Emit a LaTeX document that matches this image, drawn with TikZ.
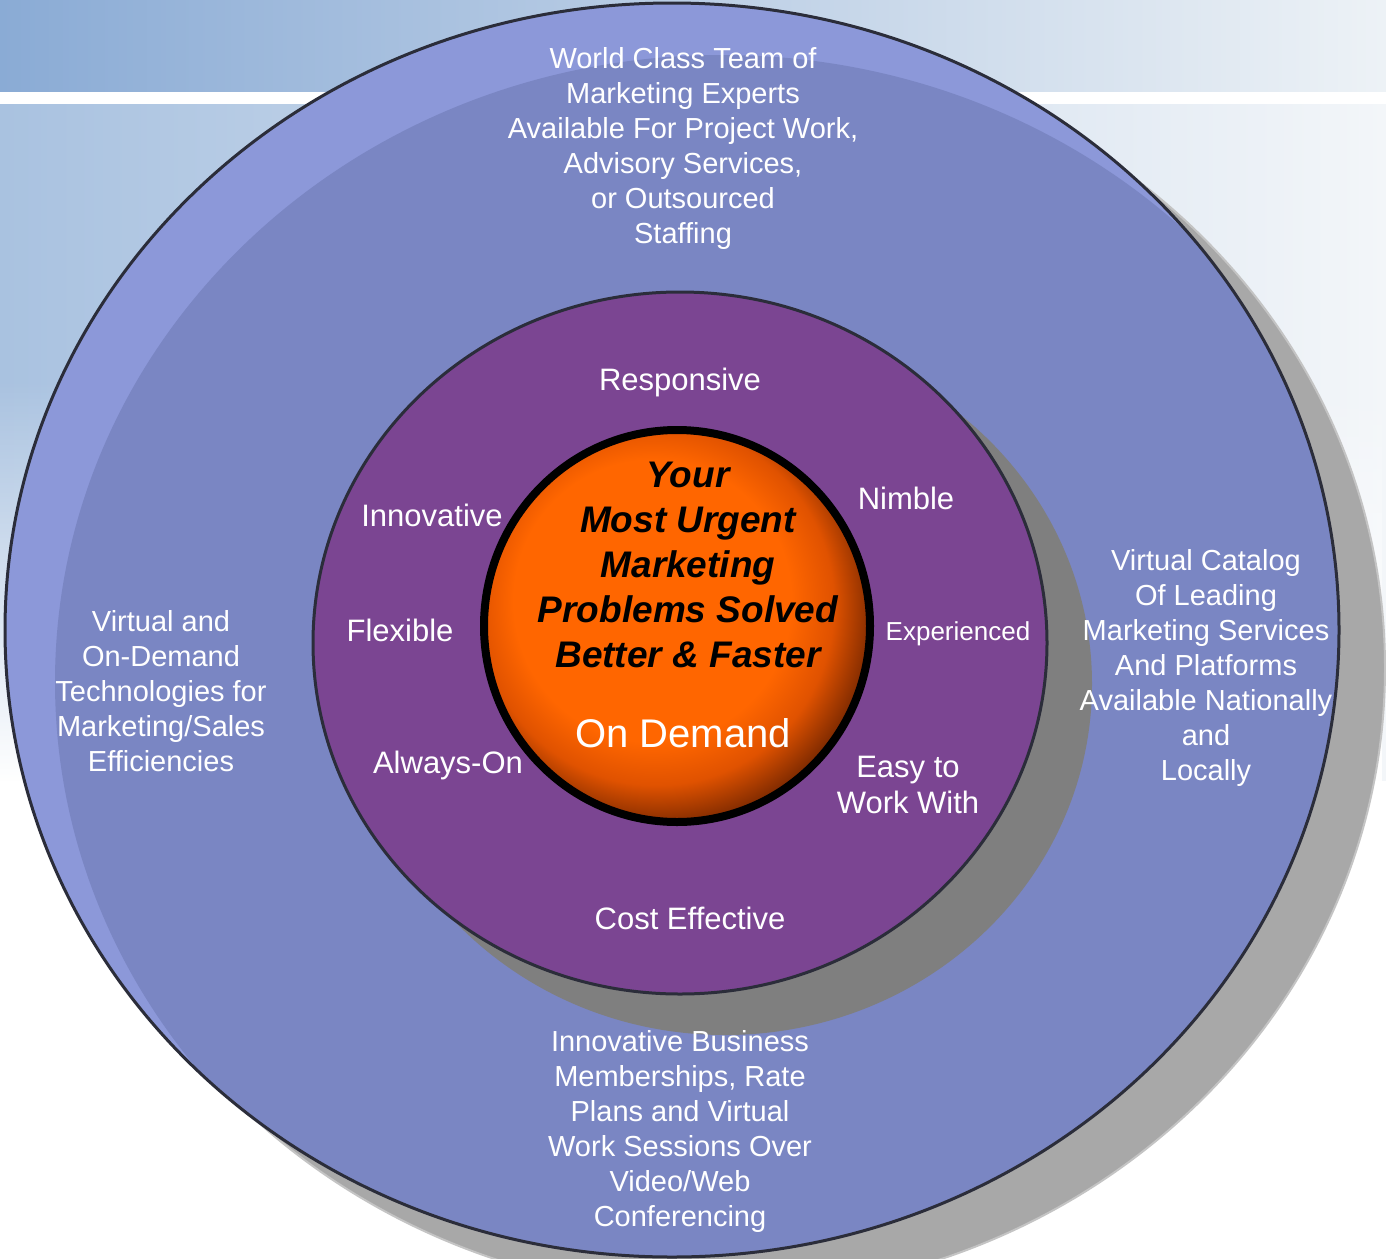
\documentclass[tikz,border=0pt]{standalone}
\usepackage{fontspec}
\setmainfont{Liberation Sans}
\usetikzlibrary{fadings}
\definecolor{skyA}{HTML}{8AABD5}
\definecolor{skyB}{HTML}{D2DEEB}
\definecolor{skyC}{HTML}{EDF2F6}
\definecolor{skyD}{HTML}{A9C2E0}
\definecolor{skyE}{HTML}{E2EAF3}
\definecolor{skyF}{HTML}{F3F6F9}
\definecolor{rimblue}{HTML}{8C98D9}
\definecolor{diskblue}{HTML}{7A86C3}
\definecolor{ringline}{HTML}{2B2D3A}
\definecolor{shadowA}{HTML}{A8A8A8}
\definecolor{shadowAline}{HTML}{C4C4C4}
\definecolor{shadowB}{HTML}{7F7F7F}
\definecolor{purp}{HTML}{7B4592}
\definecolor{orA}{HTML}{FF6600}
\definecolor{orB}{HTML}{E05200}
\definecolor{orC}{HTML}{7A2800}
\definecolor{orD}{HTML}{3A1200}
\pgfdeclareradialshading{orb}{\pgfpoint{-5bp}{5bp}}{color(0bp)=(orA); color(18bp)=(orA); color(23bp)=(orB); color(28bp)=(orC); color(32bp)=(orD); color(50bp)=(orD)}
\begin{document}
\begin{tikzpicture}[x=1pt,y=-1pt,
  otext/.style={text=white, align=center, inner sep=0pt, font=\fontsize{29}{35}\selectfont},
  ptext/.style={text=white, align=center, inner sep=0pt, font=\fontsize{31}{36}\selectfont},
  ctext/.style={text=black, align=center, inner sep=0pt, font=\bfseries\itshape\fontsize{37}{45}\selectfont},
  dtext/.style={text=white, align=center, inner sep=0pt, font=\fontsize{40}{46}\selectfont}
]
\useasboundingbox (0,0) rectangle (1386,1258);
% background
\fill[white] (0,0) rectangle (1386,1258);
\shade[left color=skyA, middle color=skyB, right color=skyC] (0,0) rectangle (1386,92);
\shade[left color=skyD, middle color=skyE, right color=skyF] (0,104) rectangle (1386,780);
\fill[white, path fading=north] (0,380) rectangle (1386,781);
\fill[white] (0,92) rectangle (1386,104);
% outer ring shadow
\fill[shadowA, draw=shadowAline, line width=2pt] (718,668) circle[x radius=667pt, y radius=627pt];
% outer ring
\fill[rimblue] (672,630) circle[x radius=667pt, y radius=627pt];
\begin{scope}
  \clip (672,630) circle[x radius=667pt, y radius=627pt];
  \fill[diskblue] (722,682) circle[x radius=667pt, y radius=627pt];
\end{scope}
\draw[ringline, line width=3pt] (672,630) circle[x radius=667pt, y radius=627pt];
% purple ring shadow and ring
\fill[shadowB] (725,684) circle[x radius=367pt, y radius=351pt];
\fill[purp] (680,643) circle[x radius=367pt, y radius=351pt];
\draw[ringline, line width=3pt] (680,643) circle[x radius=367pt, y radius=351pt];
% orange core
\shade[shading=orb] (677,626) circle[x radius=193pt, y radius=196pt];
\draw[black, line width=8pt] (677,626) circle[x radius=193pt, y radius=196pt];
% outer ring texts
\node[otext] (top) at (683,148) {World Class Team of\\Marketing Experts\\Available For Project Work,\\Advisory Services,\\or Outsourced\\Staffing};
\node[otext] (left) at (161,691) {Virtual and\\On-Demand\\Technologies for\\Marketing/Sales\\Efficiencies};
\node[otext] (right) at (1206,668) {Virtual Catalog\\Of Leading\\Marketing Services\\And Platforms\\Available Nationally\\and\\Locally};
\node[otext] (bottom) at (680,1131) {Innovative Business\\Memberships, Rate\\Plans and Virtual\\Work Sessions Over\\Video/Web\\Conferencing};
% purple ring texts
\node[ptext] (responsive) at (680,382) {Responsive};
\node[ptext] (nimble) at (906,498) {Nimble};
\node[ptext] (innovative) at (432,515) {Innovative};
\node[ptext] (flexible) at (400,630) {Flexible};
\node[text=white, inner sep=0pt, font=\fontsize{26}{30}\selectfont] (experienced) at (958,634) {Experienced};
\node[ptext] (alwayson) at (448,765) {Always-On};
\node[ptext] (easy) at (908,785) {Easy to\\Work With};
\node[ptext] (cost) at (690,918) {Cost Effective};
% core texts
\node[ctext] (core) at (688,565) {Your\\Most Urgent\\Marketing\\Problems Solved\\Better \& Faster};
\node[dtext] (demand) at (683,733) {On Demand};
\end{tikzpicture}
\end{document}
